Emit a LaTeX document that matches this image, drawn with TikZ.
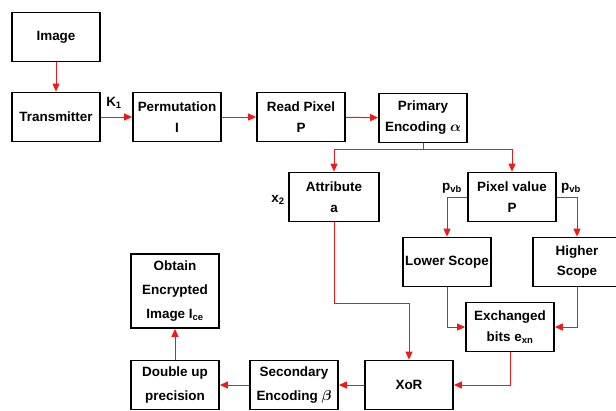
\documentclass[tikz,border=0pt]{standalone}
\usepackage{amsmath}
\usepackage{fontspec}
\setmainfont{Liberation Sans}
\usetikzlibrary{positioning,arrows.meta}
\definecolor{flowred}{HTML}{F01818}
\tikzset{
  stepbox/.style={draw=black, line width=1.8pt, fill=white, align=center,
                  font=\fontsize{13.5}{21}\selectfont\bfseries, inner sep=2pt,
                  minimum width=88bp, minimum height=49bp},
  redarrow/.style={-{Triangle[length=8bp,width=7bp]}, draw=flowred, line width=1pt},
  sidelabel/.style={font=\fontsize{13.5}{15}\selectfont\bfseries},
}
\begin{document}
\begin{tikzpicture}[x=1bp, y=-1bp]
  \useasboundingbox (0,0) rectangle (616,410);
  % top row
  \node[stepbox] (img) at (56,37) {Image};
  \node[stepbox] (tx) at (56,117) {Transmitter};
  \node[stepbox] (perm) at (177,117) {Permutation\\I};
  \node[stepbox] (readpx) at (301,117) {Read Pixel\\P};
  \node[stepbox] (prim) at (423,118) {Primary\\Encoding $\boldsymbol{\alpha}$};
  % middle
  \node[stepbox, minimum width=90bp] (attr) at (334,197) {Attribute\\a};
  \node[stepbox] (pxval) at (512,197) {Pixel value\\P};
  \node[stepbox] (lower) at (447,262) {Lower Scope};
  \node[stepbox] (higher) at (577,262) {Higher\\Scope};
  \node[stepbox] (exch) at (510,327) {Exchanged\\bits e\textsubscript{xn}};
  % bottom row
  \node[stepbox] (xor) at (409,385) {XoR};
  \node[stepbox, font=\fontsize{13.5}{24}\selectfont\bfseries] (second) at (294,385) {Secondary\\Encoding $\boldsymbol{\beta}$};
  \node[stepbox, font=\fontsize{13.5}{24}\selectfont\bfseries] (dbl) at (175,385) {Double up\\precision};
  \node[stepbox, minimum height=74bp, font=\fontsize{13.5}{24}\selectfont\bfseries] (obtain) at (175,291) {Obtain\\Encrypted\\Image I\textsubscript{ce}};
  % labels
  \node[sidelabel] (k1) at (114,103) {K\textsubscript{1}};
  \node[sidelabel] (x2) at (278,200) {x\textsubscript{2}};
  \node[sidelabel] (pvbl) at (452,188) {p\textsubscript{vb}};
  \node[sidelabel] (pvbr) at (571,188) {p\textsubscript{vb}};
  \coordinate (split) at (423,149);
  % connectors
  \draw[redarrow] (img) -- (tx);
  \draw[redarrow] (tx) -- (perm);
  \draw[redarrow] (perm) -- (readpx);
  \draw[redarrow] (readpx) -- (prim);
  \draw[redarrow] (prim.south) -- (split) -| (attr.north);
  \draw[redarrow] (split) -| (pxval.north);
  \draw[redarrow] (pxval.west) -| (lower.north);
  \draw[redarrow] (pxval.east) -| (higher.north);
  \draw[redarrow] (lower.south) |- (exch.west);
  \draw[redarrow] (higher.south) |- (exch.east);
  \draw[redarrow] (exch.south) |- (xor.east);
  \draw[redarrow] (attr.south) -- ++(0,81) -| (xor.north);
  \draw[redarrow] (xor) -- (second);
  \draw[redarrow] (second) -- (dbl);
  \draw[redarrow] (dbl) -- (obtain);
\end{tikzpicture}
\end{document}
